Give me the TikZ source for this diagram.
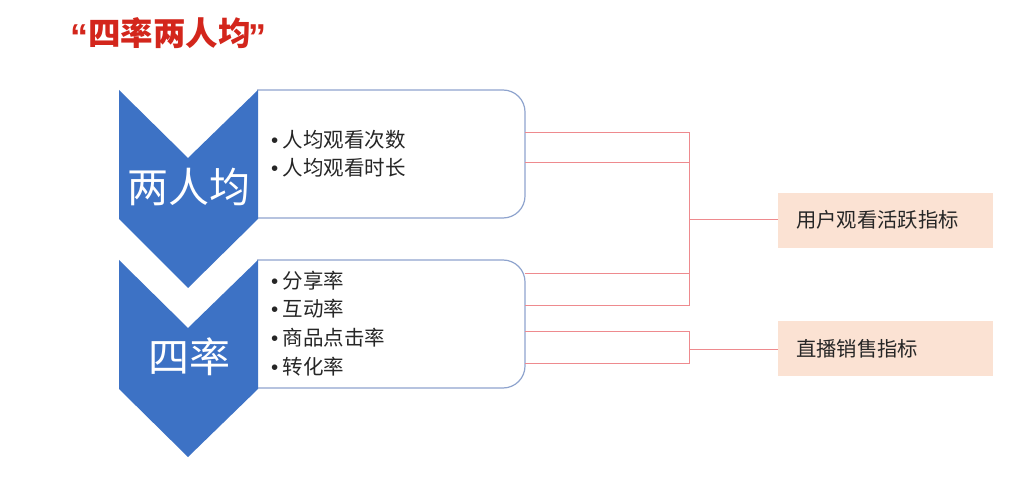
\documentclass[tikz,border=0pt]{standalone}
\usepackage{fontspec}
\setmainfont{Noto Sans CJK SC}
\newfontfamily\quotefont{Liberation Sans}
\newcommand{\bulmark}{{\quotefont •}\hspace{4.5pt}}
\begin{document}
\begin{tikzpicture}[x=1pt,y=-1pt,
  chevfill/.style={fill=chevblue,draw=none},
  itembox/.style={draw=boxline,line width=1.2pt,fill=white},
  bracket/.style={draw=linered,line width=0.7pt},
  targetbox/.style={fill=peach,draw=none,minimum width=215pt,minimum height=55pt,anchor=north west,inner sep=0pt},
  bul/.style={anchor=west,font=\fontsize{20.5}{20.5}\selectfont,text=textgray,inner sep=0pt},
  chevtext/.style={font=\fontsize{41}{41}\selectfont,text=white,inner sep=0pt},
  tgtext/.style={font=\fontsize{20.3}{20.3}\selectfont,text=textgray,inner sep=0pt,anchor=west}
]
\definecolor{chevblue}{HTML}{3D72C5}
\definecolor{boxline}{HTML}{8FA4CE}
\definecolor{linered}{HTML}{EE8A8E}
\definecolor{peach}{HTML}{FBE2D3}
\definecolor{titlered}{HTML}{D3261C}
\definecolor{textgray}{HTML}{262626}
\useasboundingbox (0,0) rectangle (1018,489);
\fill[white] (0,0) rectangle (1018,489);

% title
\node[anchor=west,inner sep=0pt,text=titlered,font=\fontsize{32.5}{32.5}\selectfont\bfseries] (title) at (70,34)
  {{\quotefont\bfseries\fontsize{36}{36}\selectfont\raisebox{-4pt}{“}}四率两人均\hspace{-2pt}{\quotefont\bfseries\fontsize{36}{36}\selectfont\raisebox{-4pt}{”}}};

% boxes
\draw[itembox] (257,90) -- (503,90) arc[start angle=-90,end angle=0,radius=22] -- (525,196) arc[start angle=0,end angle=90,radius=22] -- (257,218);
\draw[itembox] (257,260) -- (503,260) arc[start angle=-90,end angle=0,radius=22] -- (525,366) arc[start angle=0,end angle=90,radius=22] -- (257,388);

% chevrons
\path[chevfill] (119,90) -- (188,158) -- (258,90) -- (258,219) -- (188,288) -- (119,219) -- cycle;
\path[chevfill] (119,260) -- (188,328) -- (258,260) -- (258,389) -- (188,457) -- (119,389) -- cycle;
\node[chevtext] (c1) at (189,187) {两人均};
\node[chevtext] (c2) at (189,357) {四率};

% bullet items
\node[bul] (i1) at (271,140) {\bulmark 人均观看次数};
\node[bul] (i2) at (271,168) {\bulmark 人均观看时长};
\node[bul] (i3) at (271,281) {\bulmark 分享率};
\node[bul] (i4) at (271,309) {\bulmark 互动率};
\node[bul] (i5) at (271,338) {\bulmark 商品点击率};
\node[bul] (i6) at (271,367) {\bulmark 转化率};

% target boxes
\node[targetbox] (t1) at (778,193) {};
\node[tgtext] (t1t) at (796,220) {用户观看活跃指标};
\node[targetbox] (t2) at (778,321) {};
\node[tgtext] (t2t) at (796,348.5) {直播销售指标};

% brackets
\coordinate (j1) at (689,219);
\coordinate (j2) at (689,349);
\draw[bracket] (525,132) -| (j1);
\draw[bracket] (525,162) -- (689,162);
\draw[bracket] (525,273) -- (689,273);
\draw[bracket] (525,305) -| (j1);
\draw[bracket] (j1) -- (j1 -| t1.west);
\draw[bracket] (525,331) -| (j2);
\draw[bracket] (525,363) -| (j2);
\draw[bracket] (j2) -- (j2 -| t2.west);
\end{tikzpicture}
\end{document}
